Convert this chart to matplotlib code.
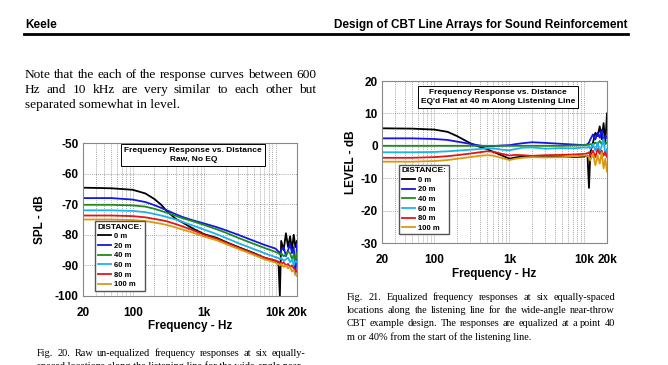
import numpy as np
import matplotlib.pyplot as plt

# --- data ---
freq_raw = [20, 50, 100, 150, 200, 250, 300, 400, 500, 700, 1000, 1500, 2000, 3000,
            5000, 7000, 10000, 11000, 11500, 12000, 13000, 14000, 15000, 16000,
            17000, 18000, 19000, 20000]
raw_0m = [-64.6, -64.8, -65.3, -66.5, -68.3, -70.2, -72.3, -74.8, -76.0, -78.0, -79.8,
          -81.0, -82.3, -84.0, -86.0, -87.5, -88.5, -89.0, -100.0, -82.0, -85.0, -79.5,
          -84.0, -80.5, -85.0, -80.0, -84.0, -82.0]
raw_20m = [-68.0, -68.0, -68.5, -69.3, -70.3, -71.2, -72.0, -73.3, -74.2, -75.3, -76.3,
           -77.5, -78.5, -80.0, -82.0, -83.3, -84.5, -85.5, -86.0, -85.0, -84.0, -87.0,
           -85.0, -83.0, -86.0, -84.0, -93.0, -83.0]
raw_40m = [-70.2, -70.2, -70.4, -70.8, -71.5, -72.2, -72.8, -73.8, -74.6, -75.6, -76.8,
           -78.2, -79.3, -81.0, -83.0, -84.3, -85.6, -86.0, -86.5, -86.0, -87.0, -86.5,
           -85.5, -86.0, -88.0, -86.5, -88.5, -86.0]
raw_60m = [-72.0, -72.0, -72.2, -72.6, -73.2, -73.7, -74.2, -75.0, -75.8, -77.0, -78.3,
           -79.8, -81.0, -82.7, -84.7, -86.0, -87.3, -87.6, -88.0, -87.5, -88.5, -88.0,
           -87.5, -89.0, -88.0, -90.0, -88.5, -89.0]
raw_80m = [-73.7, -73.7, -73.9, -74.3, -74.8, -75.2, -75.6, -76.5, -77.3, -78.5, -80.0,
           -81.3, -82.5, -84.2, -86.2, -87.5, -88.4, -88.8, -89.0, -89.5, -89.0, -90.0,
           -89.5, -90.5, -90.0, -91.0, -91.5, -92.0]
raw_100m = [-75.0, -75.0, -75.2, -75.5, -76.0, -76.4, -76.8, -77.6, -78.3, -79.3, -80.6,
            -81.8, -83.0, -84.6, -86.6, -88.0, -89.1, -89.5, -90.0, -89.5, -90.5, -90.0,
            -91.0, -90.5, -92.0, -91.5, -93.0, -93.5]

freq_eq = [20, 50, 100, 150, 200, 300, 400, 500, 600, 800, 1000, 1200, 1500, 2000, 3000,
           5000, 7000, 10000, 11000, 11500, 12000, 13000, 14000, 15000, 16000, 17000,
           18000, 19000, 20000]
eq_0m = [5.4, 5.3, 5.0, 4.3, 3.0, 0.8, -0.3, -1.0, -1.8, -3.0, -4.0, -3.6, -3.3, -3.2,
         -3.5, -3.3, -3.5, -3.3, -3.0, -13.0, -2.0, 1.0, 4.0, 3.0, 6.0, 2.0, 7.0, 1.0, 10.0]
eq_20m = [2.3, 2.3, 2.1, 1.8, 1.3, 0.6, 0.1, -0.2, -0.1, 0.1, 0.2, 0.5, 0.8, 1.1, 0.9,
          0.6, 0.4, 0.2, 0.5, 1.0, 2.0, 3.5, 2.0, 4.0, 2.5, 5.0, 1.5, 3.0, 2.5]
eq_40m = [0.0, 0.0, 0.0, 0.0, 0.0, 0.0, 0.0, 0.0, 0.0, 0.0, 0.0, 0.0, 0.0, 0.0, 0.0,
          0.0, 0.1, 0.2, 0.3, 0.3, 0.5, 0.4, 1.0, 0.5, 1.5, 0.5, 2.0, 0.5, 1.0]
eq_60m = [-2.0, -2.0, -1.9, -1.7, -1.5, -1.2, -1.0, -0.8, -0.8, -1.2, -1.4, -1.0, -0.6,
          -0.5, -0.9, -0.7, -0.8, -0.5, -0.6, -0.2, -1.0, 0.5, -1.5, 1.0, -2.0, 0.0, 2.0,
          -3.0, -1.0]
eq_80m = [-3.7, -3.7, -3.5, -3.2, -2.9, -2.4, -2.0, -1.7, -1.8, -2.5, -3.0, -2.8, -2.9,
          -3.1, -2.9, -2.8, -2.7, -2.5, -2.3, -2.0, -3.0, -1.5, -3.5, -1.0, -2.5, -1.5,
          -3.0, -2.0, -3.5]
eq_100m = [-4.9, -4.9, -4.7, -4.4, -4.0, -3.5, -3.1, -2.9, -3.0, -3.8, -4.4, -4.0, -3.7,
           -3.5, -3.6, -3.5, -3.3, -3.0, -3.2, -3.5, -4.5, -2.5, -6.0, -3.0, -5.5, -2.0,
           -7.0, -4.0, -8.0]

labels = ["0 m", "20 m", "40 m", "60 m", "80 m", "100 m"]
colors = ["#000000", "#1515e6", "#1c8c1c", "#19b4f0", "#e61414", "#d99a12"]

raw_curves = [raw_0m, raw_20m, raw_40m, raw_60m, raw_80m, raw_100m]
eq_curves = [eq_0m, eq_20m, eq_40m, eq_60m, eq_80m, eq_100m]

xticks = [20, 100, 1000, 10000, 20000]
xticklabels = ["20", "100", "1k", "10k", "20k"]

plt.rcParams["font.family"] = ["Liberation Sans", "DejaVu Sans"]
plt.rcParams["axes.unicode_minus"] = False

W, H = 668, 365
fig = plt.figure(figsize=(W / 100, H / 100), dpi=100)
fig.patch.set_facecolor("white")


def px(x, y):
    return x / W, 1 - y / H


def setup(ax, ymin, ymax, yticks, ylabel, title, title_y, ylab_x):
    ax.set_xscale("log")
    ax.set_xlim(20, 20000)
    ax.set_ylim(ymin, ymax)
    ax.set_xticks(xticks)
    ax.set_xticklabels(xticklabels)
    ax.set_yticks(yticks)
    ax.tick_params(which="both", length=0, labelsize=8.5, pad=8)
    ax.tick_params(axis="y", pad=3)
    for lab in ax.get_xticklabels() + ax.get_yticklabels():
        lab.set_fontweight("bold")
    ax.grid(True, which="both", axis="x", color="#888888", ls=(0, (1, 1.5)), lw=0.6)
    ax.grid(True, which="major", axis="y", color="#888888", ls=(0, (1, 1.5)), lw=0.6)
    ax.set_xlabel("Frequency - Hz", fontsize=8.5, fontweight="bold", labelpad=1)
    ax.set_ylabel(ylabel, fontsize=8.5, fontweight="bold")
    ax.yaxis.set_label_coords(ylab_x, 0.5)
    for s in ax.spines.values():
        s.set_color("#888888")
        s.set_linewidth(0.8)
    ax.text(0.515, title_y, title, transform=ax.transAxes, ha="center", va="top",
            fontsize=6, fontweight="bold", linespacing=1.4,
            bbox=dict(boxstyle="square,pad=0.35", fc="white", ec="black", lw=0.7))


def legend(ax, anchor):
    leg = ax.legend(loc="lower left", bbox_to_anchor=anchor, title="DISTANCE:",
                    fontsize=5.5, title_fontproperties={"size": 6, "weight": "bold"},
                    frameon=True, fancybox=False, edgecolor="#555555", framealpha=1,
                    handlelength=1.7, handletextpad=0.5, labelspacing=0.3,
                    borderpad=0.3, alignment="left")
    for t in leg.get_texts():
        t.set_fontweight("bold")


ax1 = fig.add_axes([83 / W, 1 - 296 / H, 214 / W, 153 / H])
for vals, lab, c in zip(raw_curves, labels, colors):
    ax1.plot(freq_raw, vals, color=c, lw=1.3, label=lab)
setup(ax1, -100, -50, [-100, -90, -80, -70, -60, -50], "SPL - dB",
      "Frequency Response vs. Distance\nRaw, No EQ", 0.975, -0.175)
legend(ax1, (0.04, 0.01))

ax2 = fig.add_axes([382 / W, 1 - 243 / H, 225 / W, 162 / H])
for vals, lab, c in zip(eq_curves, labels, colors):
    ax2.plot(freq_eq, vals, color=c, lw=1.3, label=lab)
setup(ax2, -30, 20, [-30, -20, -10, 0, 10, 20], "LEVEL - dB",
      "Frequency Response vs. Distance\nEQ'd Flat at 40 m Along Listening Line",
      0.95, -0.11)
legend(ax2, (0.06, 0.03))

# --- page header ---
fig.text(*px(25, 28), "Keele", fontsize=8.5, fontweight="bold", va="baseline")
fig.text(*px(628, 28), "Design of CBT Line Arrays for Sound Reinforcement",
         fontsize=8.5, fontweight="bold", va="baseline", ha="right")
fig.add_artist(plt.Line2D([24 / W, 628 / W], [1 - 33.5 / H] * 2, color="black", lw=2))

# --- body text and captions (justified) ---
serif = ["Liberation Serif", "DejaVu Serif"]
renderer = fig.canvas.get_renderer()


def justify(line, x0, x1, ybase, size):
    y = 1 - ybase / H
    words = line.split()
    items = [fig.text(0, y, w, family=serif, fontsize=size, va="baseline")
             for w in words]
    widths = [t.get_window_extent(renderer).width for t in items]
    gap = (x1 - x0 - sum(widths)) / max(len(words) - 1, 1)
    x = x0
    for t, w in zip(items, widths):
        t.set_x(x / W)
        x += w + gap


def plain(line, x0, ybase, size):
    fig.text(x0 / W, 1 - ybase / H, line, family=serif, fontsize=size, va="baseline")


body = ["Note that the each of the response curves between 600",
        "Hz and 10 kHz are very similar to each other but",
        "separated somewhat in level."]
justify(body[0], 25, 316, 78, 9.6)
justify(body[1], 25, 316, 93, 9.6)
plain(body[2], 25, 108, 9.6)

cap21 = ["Fig.  21. Equalized frequency responses at six equally-spaced",
         "locations along the listening line for the wide-angle near-throw",
         "CBT example design. The responses are equalized at a point 40",
         "m or 40% from the start of the listening line."]
for i in range(3):
    justify(cap21[i], 347, 615, 300 + i * 13.2, 7.4)
plain(cap21[3], 347, 300 + 3 * 13.2, 7.4)

# second caption line is cut by the bottom edge of the page in the reference
cap20 = ["Fig.  20. Raw un-equalized frequency responses at six equally-",
         "spaced locations along the listening line for the wide-angle near-"]
justify(cap20[0], 37, 305, 356, 7.4)
plain(cap20[1], 37, 369.2, 7.4)

fig.savefig("out.png", dpi=100)
